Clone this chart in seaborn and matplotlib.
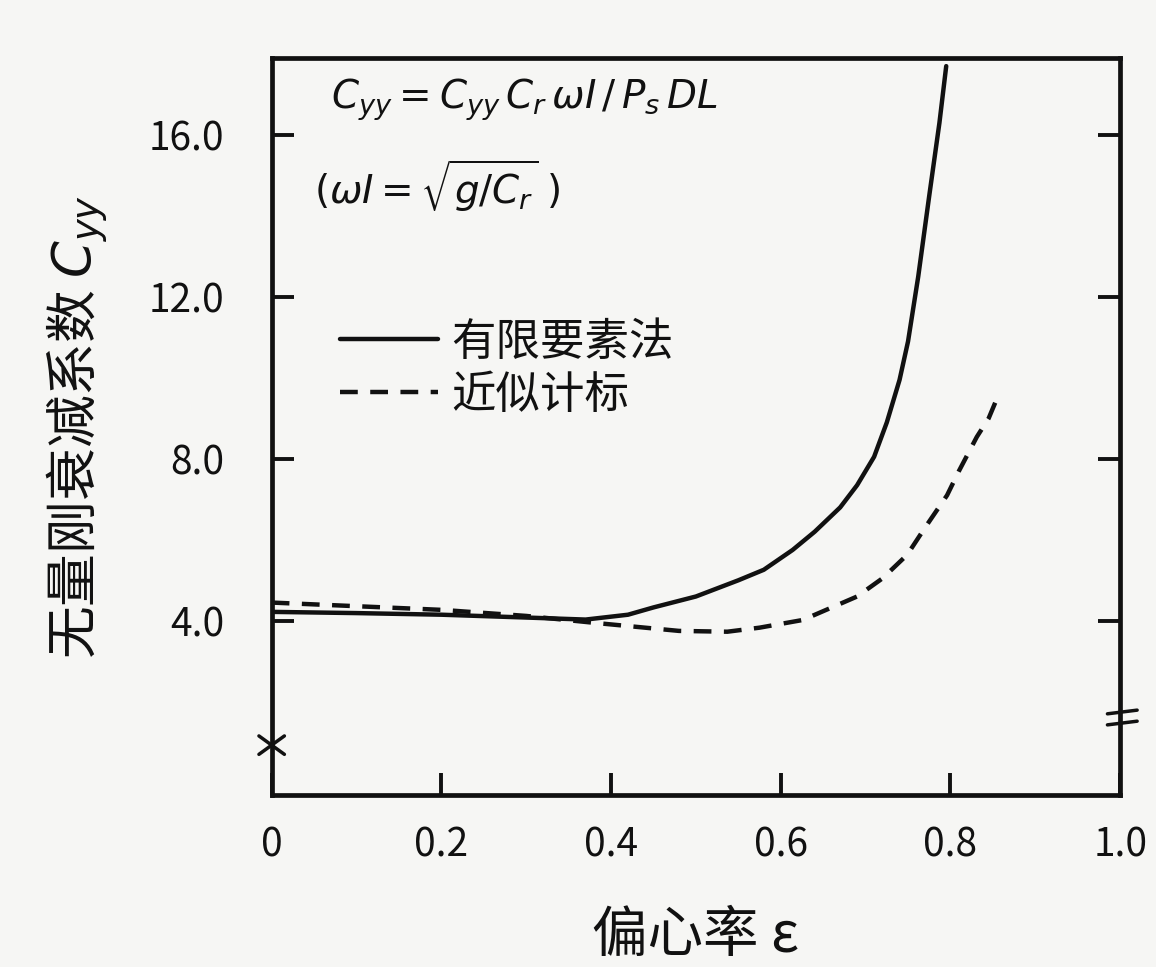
import numpy as np
import pandas as pd
import matplotlib
matplotlib.use("Agg")
import matplotlib.pyplot as plt
import seaborn as sns

# ----------------------------------------------------------------------------
# data
# ----------------------------------------------------------------------------
fem_ecc = [0.0, 0.10, 0.20, 0.30, 0.37, 0.42, 0.45, 0.50, 0.55, 0.58, 0.614,
           0.64, 0.67, 0.69, 0.71, 0.725, 0.74, 0.75, 0.762, 0.775, 0.787,
           0.795]
fem_cyy = [4.22, 4.19, 4.15, 4.08, 4.03, 4.15, 4.33, 4.6, 5.0, 5.26, 5.75,
           6.2, 6.8, 7.35, 8.05, 8.9, 9.95, 10.9, 12.5, 14.5, 16.3,
           17.7]

approx_ecc = [0.0, 0.10, 0.20, 0.30, 0.38, 0.48, 0.537, 0.575, 0.626, 0.69,
              0.72, 0.749, 0.77, 0.796, 0.81, 0.831, 0.845, 0.855]
approx_cyy = [4.45, 4.36, 4.27, 4.12, 3.95, 3.75, 3.73, 3.83, 4.02, 4.6,
              5.05, 5.63, 6.3, 7.1, 7.7, 8.54, 9.0, 9.5]

series_names = ["有限要素法", "近似计标"]

x_ticks = [0.0, 0.2, 0.4, 0.6, 0.8, 1.0]
x_tick_labels = ["0", "0.2", "0.4", "0.6", "0.8", "1.0"]
y_ticks = [4.0, 8.0, 12.0, 16.0]
y_tick_labels = ["4.0", "8.0", "12.0", "16.0"]

df = pd.concat([
    pd.DataFrame({"ecc": fem_ecc, "cyy": fem_cyy, "method": series_names[0]}),
    pd.DataFrame({"ecc": approx_ecc, "cyy": approx_cyy, "method": series_names[1]}),
], ignore_index=True)

# ----------------------------------------------------------------------------
# style
# ----------------------------------------------------------------------------
sns.set_theme(style="ticks")
plt.rcParams["font.family"] = ["Noto Sans CJK SC", "DejaVu Sans"]
plt.rcParams["mathtext.fontset"] = "dejavusans"

ink = "#111111"
paper = "#f6f6f4"

fig = plt.figure(figsize=(11.56, 9.67), dpi=100, facecolor=paper)
ax = fig.add_axes([0.235, 0.178, 0.734, 0.762])
ax.set_facecolor(paper)

sns.lineplot(data=df, x="ecc", y="cyy", hue="method", style="method",
             palette=[ink, ink], dashes=[(None, None), (4, 2.8)],
             linewidth=3.2, sort=False, ax=ax)

ax.set_xlim(0.0, 1.0)
ax.set_ylim(-0.3, 17.9)

ax.set_xticks(x_ticks)
ax.set_xticklabels(x_tick_labels)
ax.set_yticks(y_ticks)
ax.set_yticklabels(y_tick_labels)
ax.tick_params(axis="both", direction="in", length=16, width=2.8,
               colors=ink, labelsize=28, right=True)
ax.tick_params(axis="x", pad=22)
ax.tick_params(axis="y", pad=34)

for side in ["left", "right", "bottom", "top"]:
    ax.spines[side].set_visible(True)
    ax.spines[side].set_linewidth(3.4)
    ax.spines[side].set_color(ink)

# axis break marks (hand-drawn look)
ax.plot([-0.015, 0.015], [0.055, 0.08], transform=ax.transAxes,
        color=ink, lw=2.5, clip_on=False)
ax.plot([-0.015, 0.015], [0.08, 0.055], transform=ax.transAxes,
        color=ink, lw=2.5, clip_on=False)
ax.plot([0.985, 1.02], [0.095, 0.1], transform=ax.transAxes,
        color=ink, lw=2.5, clip_on=False)
ax.plot([0.985, 1.02], [0.11, 0.115], transform=ax.transAxes,
        color=ink, lw=2.5, clip_on=False)

ax.set_xlabel("偏心率 ε", fontsize=40, color=ink, labelpad=30)
ax.set_ylabel("无量刚衰减系数 $C_{yy}$", fontsize=38, color=ink, labelpad=28)

# formula annotation
ax.text(0.07, 0.975, r"$C_{yy} = C_{yy}\,C_r\,\omega I\,/\,P_s\,D L$",
        transform=ax.transAxes, fontsize=28, color=ink, va="top", ha="left")
ax.text(0.05, 0.865, r"$(\omega I = \sqrt{g/C_r}\;)$",
        transform=ax.transAxes, fontsize=28, color=ink, va="top", ha="left")

leg = ax.legend(loc="upper left", bbox_to_anchor=(0.06, 0.67), frameon=False,
                fontsize=32, handlelength=2.2, handletextpad=0.3,
                labelspacing=0.15, borderaxespad=0)
for line in leg.get_lines():
    line.set_linewidth(3.2)
for t in leg.get_texts():
    t.set_color(ink)

fig.savefig("out.png", dpi=100, facecolor=paper)
